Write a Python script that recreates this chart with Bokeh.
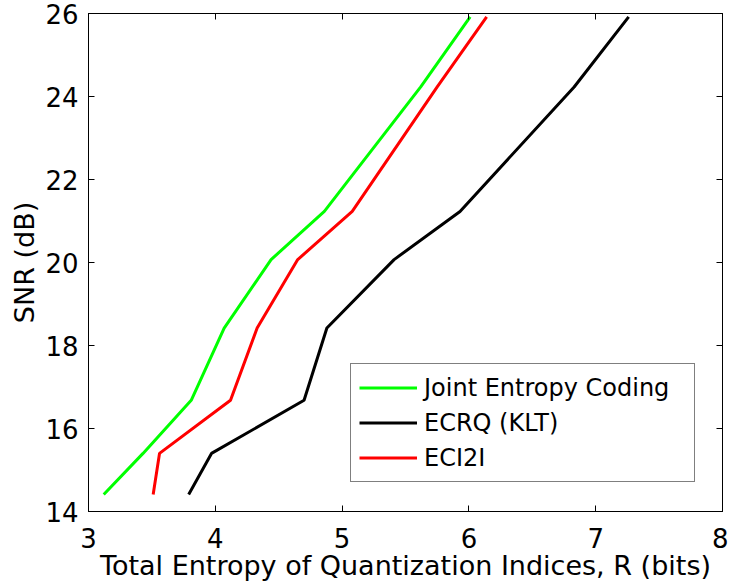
from bokeh.plotting import figure
from bokeh.models import LinearAxis, FixedTicker, Legend, LegendItem, Range1d
from bokeh.embed import file_html
from bokeh.resources import INLINE

# Data
snr = [14.41, 15.40, 16.68, 18.42, 20.07, 21.23, 24.23, 25.92]
joint_x = [3.12, 3.43, 3.81, 4.07, 4.44, 4.86, 5.62, 6.01]
ecrq_x = [3.79, 3.97, 4.70, 4.88, 5.41, 5.93, 6.83, 7.26]
eci2i_x = [3.51, 3.56, 4.12, 4.33, 4.65, 5.08, 5.75, 6.14]
series_names = ["Joint Entropy Coding", "ECRQ (KLT)", "ECI2I"]
series_colors = ["#00ff00", "#000000", "#ff0000"]
x_ticks = [3, 4, 5, 6, 7, 8]
y_ticks = [14, 16, 18, 20, 22, 24, 26]

FONT = "DejaVu Sans"

p = figure(width=728, height=586, output_backend="svg", toolbar_location=None,
           x_range=Range1d(3, 8), y_range=Range1d(14, 26),
           min_border_left=88, min_border_right=6, min_border_top=13, min_border_bottom=75,
           x_axis_label="Total Entropy of Quantization Indices, R (bits)",
           y_axis_label="SNR (dB)")
p.grid.visible = False
p.outline_line_color = "black"
p.outline_line_width = 1
p.background_fill_color = "white"
p.border_fill_color = "white"

for ax, ticks in ((p.xaxis[0], x_ticks), (p.yaxis[0], y_ticks)):
    ax.ticker = FixedTicker(ticks=ticks)
    ax.major_tick_in = 6
    ax.major_tick_out = 0
    ax.minor_tick_line_color = None
    ax.axis_line_color = "black"
    ax.major_tick_line_color = "black"
    ax.major_label_text_font = FONT
    ax.major_label_text_font_size = "26px"
    ax.major_label_text_color = "black"
    ax.axis_label_text_font = FONT
    ax.axis_label_text_font_size = "27px"
    ax.axis_label_text_font_style = "normal"
    ax.axis_label_text_color = "black"

p.xaxis[0].major_label_standoff = 16
p.xaxis[0].axis_label_standoff = -1
p.yaxis[0].major_label_standoff = 10
p.yaxis[0].axis_label_standoff = 2

top = LinearAxis(ticker=FixedTicker(ticks=x_ticks), major_tick_in=6, major_tick_out=0,
                 minor_tick_line_color=None, major_label_text_font_size="0px",
                 major_label_standoff=0)
right = LinearAxis(ticker=FixedTicker(ticks=y_ticks), major_tick_in=6, major_tick_out=0,
                   minor_tick_line_color=None, major_label_text_font_size="0px",
                   major_label_standoff=0)
p.add_layout(top, "above")
p.add_layout(right, "right")

r1 = p.line(joint_x, snr, line_color=series_colors[0], line_width=3)
r2 = p.line(ecrq_x, snr, line_color=series_colors[1], line_width=3)
r3 = p.line(eci2i_x, snr, line_color=series_colors[2], line_width=3)

legend = Legend(items=[LegendItem(label=series_names[0], renderers=[r1]),
                       LegendItem(label=series_names[1], renderers=[r2]),
                       LegendItem(label=series_names[2], renderers=[r3])],
                location=(262, 29))
legend.label_text_font = FONT
legend.label_text_font_size = "24px"
legend.label_text_color = "black"
legend.glyph_width = 58
legend.glyph_height = 31
legend.label_height = 31
legend.label_width = 262
legend.label_standoff = 7
legend.spacing = 4
legend.padding = 8
legend.margin = 0
legend.border_line_color = "black"
legend.border_line_width = 1
legend.background_fill_alpha = 1
p.add_layout(legend, "center")

open("out.html", "w").write(file_html(p, INLINE))
